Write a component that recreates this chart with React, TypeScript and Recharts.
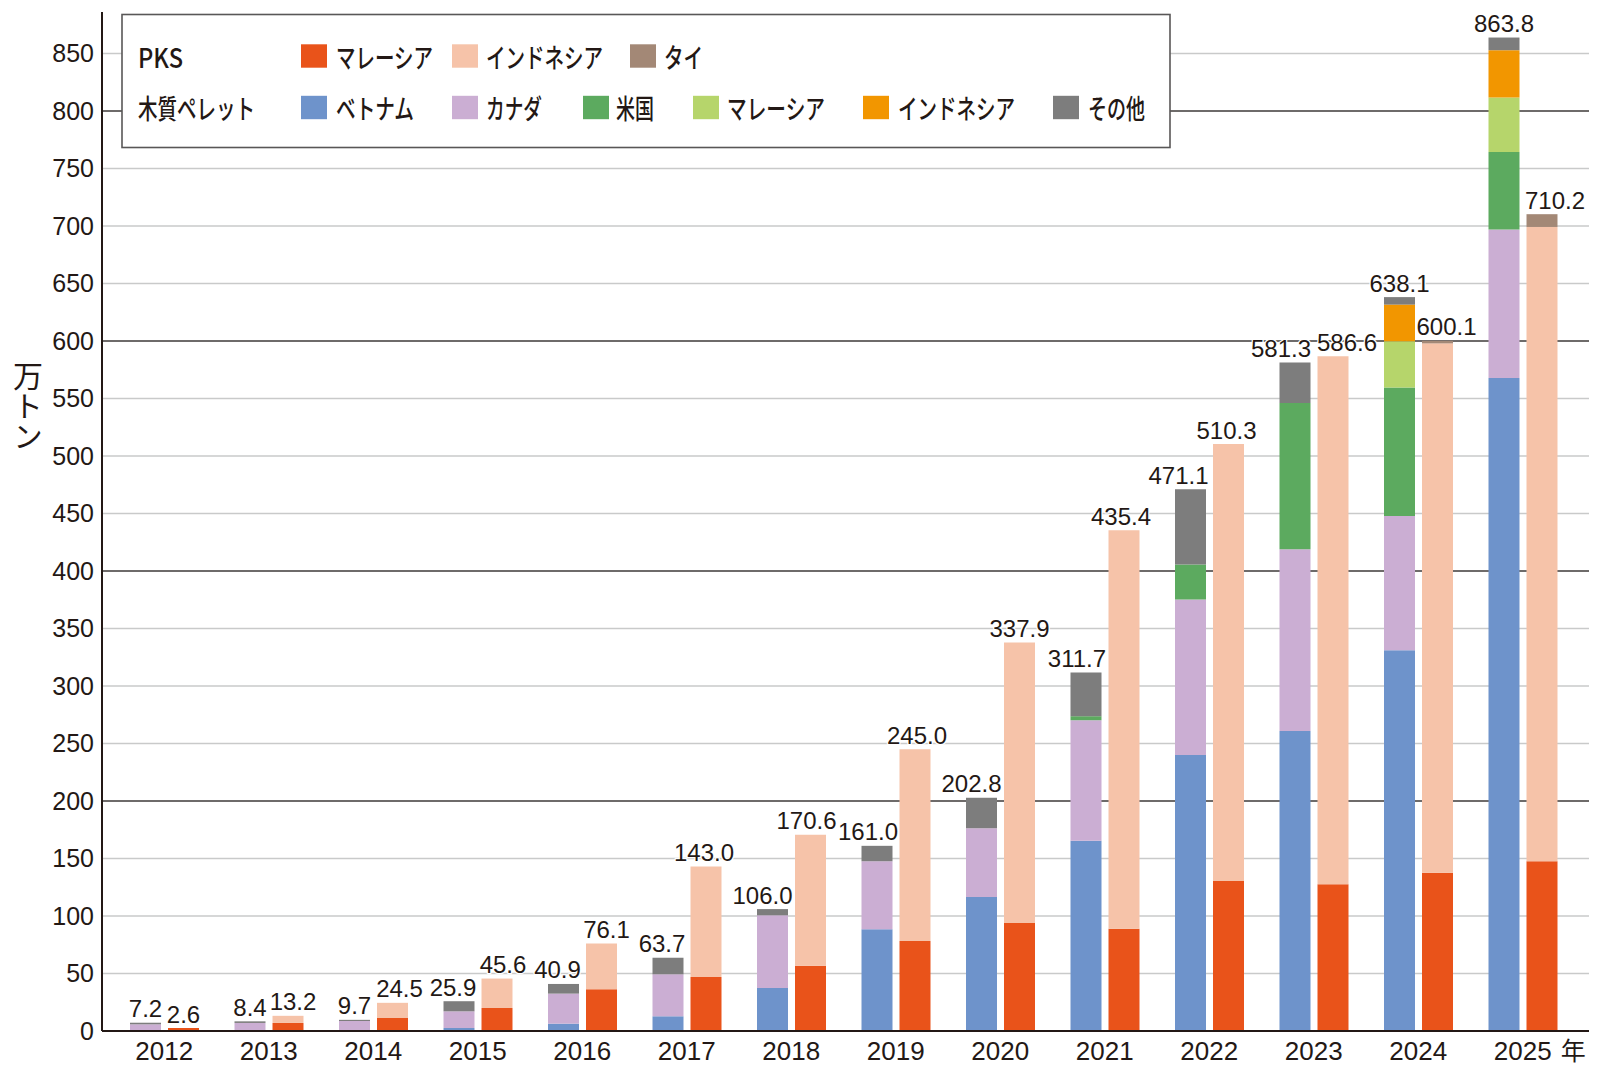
import React from 'react';
import { BarChart, Bar, XAxis, YAxis, CartesianGrid, LabelList } from 'recharts';

// ---- data (万トン) ----
const years = ['2012', '2013', '2014', '2015', '2016', '2017', '2018', '2019', '2020', '2021', '2022', '2023', '2024', '2025'];

// 木質ペレット
const woodVietnam = [0, 0, 0, 2.6, 6.4, 12.8, 37.4, 88.4, 116.5, 165.4, 240.0, 260.9, 331.0, 567.8];
const woodCanada = [5.8, 7.0, 8.7, 14.5, 26.1, 36.5, 63.2, 59.2, 59.8, 104.8, 135.1, 158.0, 116.8, 129.1];
const woodUS = [0, 0, 0, 0, 0, 0, 0, 0, 0, 3.5, 30.5, 127.2, 111.7, 67.4];
const woodMalaysia = [0, 0, 0, 0, 0, 0, 0, 0, 0, 0, 0, 0, 40.2, 47.3];
const woodIndonesia = [0, 0, 0, 0, 0, 0, 0, 0, 0, 0, 0, 0, 31.9, 41.2];
const woodOther = [1.4, 1.4, 1.0, 8.8, 8.4, 14.4, 5.4, 13.4, 26.5, 38.0, 65.5, 35.2, 6.5, 11.0];
const woodTotals = [7.2, 8.4, 9.7, 25.9, 40.9, 63.7, 106.0, 161.0, 202.8, 311.7, 471.1, 581.3, 638.1, 863.8];

// PKS
const pksMalaysia = [2.6, 7.0, 11.3, 20.0, 36.3, 47.0, 56.8, 78.3, 93.9, 88.9, 130.5, 127.6, 137.7, 147.6];
const pksIndonesia = [0, 6.2, 13.2, 25.6, 39.8, 96.0, 113.8, 166.7, 244.0, 346.5, 379.8, 459.0, 460.2, 551.5];
const pksThailand = [0, 0, 0, 0, 0, 0, 0, 0, 0, 0, 0, 0, 2.2, 11.1];
const pksTotals = [2.6, 13.2, 24.5, 45.6, 76.1, 143.0, 170.6, 245.0, 337.9, 435.4, 510.3, 586.6, 600.1, 710.2];

const yTicks = [0, 50, 100, 150, 200, 250, 300, 350, 400, 450, 500, 550, 600, 650, 700, 750, 800, 850];
const majorTicks = [200, 400, 600, 800];
const minorTicks = yTicks.filter((t) => t !== 0 && !majorTicks.includes(t));

// label nudges (px) to avoid overlaps, as in the original
const woodLabelNudge = [0, 0, 0, -6, -6, -6, -10, -9, -10, -9, -12, -14, 0, 0];
const pksLabelNudge = [0, 5, 7, 6, 5, -2, -4, 2, 0, -3, -2, 14, 9, 13];

const data = years.map((year, i) => ({
  year,
  wVn: woodVietnam[i],
  wCa: woodCanada[i],
  wUs: woodUS[i],
  wMy: woodMalaysia[i],
  wId: woodIndonesia[i],
  wOt: woodOther[i],
  pMy: pksMalaysia[i],
  pId: pksIndonesia[i],
  pTh: pksThailand[i],
  woodTotal: woodTotals[i],
  pksTotal: pksTotals[i],
}));

// ---- styles ----
const TEXT = '#231815';
const NUM_FONT = '"Liberation Sans", Arial, Helvetica, sans-serif';
const JP_FONT = '"Noto Sans CJK JP", "Noto Sans", sans-serif';

const C = {
  vn: '#6e93cb',
  ca: '#cbaed3',
  us: '#5caa5f',
  wmy: '#b6d56b',
  wid: '#f29600',
  ot: '#7d7d7d',
  pmy: '#e9531a',
  pid: '#f6c3a9',
  th: '#a38876',
};

const LabelText = ({ x, y, v }: { x: number; y: number; v: number }) => (
  <text
    x={x}
    y={y}
    textAnchor="middle"
    fontSize={24}
    fontFamily={NUM_FONT}
    fill={TEXT}
    stroke="#ffffff"
    strokeWidth={2.5}
    strokeLinejoin="round"
    paintOrder="stroke"
  >
    {v.toFixed(1)}
  </text>
);

// label on top segment of wood stack (always non-zero)
const woodLabel = (props: any) => {
  const vb = props.viewBox || {};
  const bx = Number(props.x ?? vb.x);
  const by = Number(props.y ?? vb.y);
  const bw = Number(props.width ?? vb.width);
  const v = Number(props.value);
  let i = woodTotals.indexOf(v);
  if (i < 0) i = 0;
  return <LabelText x={bx + bw / 2 + woodLabelNudge[i]} y={by - 5.5} v={v} />;
};

// label for PKS stack, placed at the stack total using the base segment's own scale
const pksLabel = (props: any) => {
  const vb = props.viewBox || {};
  const bx = Number(props.x ?? vb.x);
  const by = Number(props.y ?? vb.y);
  const bw = Number(props.width ?? vb.width);
  const bh = Number(props.height ?? vb.height);
  const v = Number(props.value);
  let i = pksTotals.indexOf(v);
  if (i < 0) i = 0;
  const bottom = by + bh;
  const top = bottom - (bh * v) / pksMalaysia[i];
  return <LabelText x={bx + bw / 2 + pksLabelNudge[i]} y={top - 5.5} v={v} />;
};

const YearTick = (props: any) => {
  const { x, y, payload } = props;
  const isLast = payload.value === years[years.length - 1];
  return (
    <g>
      <text x={x} y={y + 29} textAnchor="middle" fontSize={26} fontFamily={NUM_FONT} fill={TEXT}>
        {payload.value}
      </text>
      {isLast && (
        <text x={x + 38} y={y + 29} textAnchor="start" fontSize={25} fontFamily={JP_FONT} fill={TEXT}>
          年
        </text>
      )}
    </g>
  );
};

// legend layout
const legendRows = [
  {
    title: 'PKS',
    titleW: 45,
    y: 56,
    items: [
      { name: 'マレーシア', color: C.pmy, sx: 301, tx: 336, tw: 97 },
      { name: 'インドネシア', color: C.pid, sx: 452, tx: 486, tw: 117 },
      { name: 'タイ', color: C.th, sx: 630, tx: 664, tw: 39 },
    ],
  },
  {
    title: '木質ペレット',
    titleW: 117,
    y: 107.5,
    items: [
      { name: 'ベトナム', color: C.vn, sx: 301, tx: 336, tw: 78 },
      { name: 'カナダ', color: C.ca, sx: 452, tx: 486, tw: 56 },
      { name: '米国', color: C.us, sx: 583, tx: 616, tw: 38 },
      { name: 'マレーシア', color: C.wmy, sx: 693, tx: 727, tw: 98 },
      { name: 'インドネシア', color: C.wid, sx: 863, tx: 898, tw: 117 },
      { name: 'その他', color: C.ot, sx: 1053, tx: 1088, tw: 57 },
    ],
  },
];

const Overlay = () => (
  <svg
    width={1600}
    height={1070}
    style={{ position: 'absolute', left: 0, top: 0, pointerEvents: 'none' }}
  >
    <rect x={122} y={14.5} width={1048} height={133} fill="#ffffff" stroke="#595757" strokeWidth={1.6} />
    {legendRows.map((row) => (
      <g key={row.title}>
        <text
          x={138}
          y={row.y}
          dominantBaseline="central"
          fontSize={27}
          fontWeight={500}
          fontFamily={JP_FONT}
          fill={TEXT}
          textLength={row.titleW}
          lengthAdjust="spacingAndGlyphs"
        >
          {row.title}
        </text>
        {row.items.map((it) => (
          <g key={it.name + it.sx}>
            <rect x={it.sx} y={row.y - 11.7} width={26} height={23.4} fill={it.color} />
            <text
              x={it.tx}
              y={row.y}
              dominantBaseline="central"
              fontSize={27}
              fontWeight={500}
              fontFamily={JP_FONT}
              fill={TEXT}
              textLength={it.tw}
              lengthAdjust="spacingAndGlyphs"
            >
              {it.name}
            </text>
          </g>
        ))}
      </g>
    ))}
    {/* y-axis unit, vertical */}
    <text
      x={28}
      y={361}
      fontSize={30}
      fontFamily={JP_FONT}
      fill={TEXT}
      style={{ writingMode: 'vertical-rl' }}
    >
      万トン
    </text>
  </svg>
);

export default function App() {
  return (
    <div style={{ position: 'absolute', left: 0, top: 0, width: 1600, height: 1070, background: '#fff' }}>
      <BarChart
        width={1600}
        height={1070}
        data={data}
        margin={{ top: 12, right: 11, bottom: 0, left: 0 }}
        barSize={31}
        barGap={7}
      >
        <CartesianGrid vertical={false} horizontalValues={minorTicks} stroke="#c9caca" strokeWidth={1.5} />
        <CartesianGrid vertical={false} horizontalValues={majorTicks} stroke="#3e3a39" strokeWidth={1.5} />
        <XAxis
          dataKey="year"
          interval={0}
          height={39}
          padding={{ left: 10, right: 14 }}
          tickLine={false}
          tickSize={0}
          tickMargin={0}
          axisLine={{ stroke: TEXT, strokeWidth: 2 }}
          tick={<YearTick />}
        />
        <YAxis
          width={102}
          domain={[0, 886]}
          ticks={yTicks}
          interval={0}
          tickLine={false}
          axisLine={{ stroke: TEXT, strokeWidth: 2 }}
          tick={{ fontSize: 25, fontFamily: NUM_FONT, fill: TEXT }}
        />
        <Bar dataKey="wVn" stackId="wood" fill={C.vn} isAnimationActive={false} />
        <Bar dataKey="wCa" stackId="wood" fill={C.ca} isAnimationActive={false} />
        <Bar dataKey="wUs" stackId="wood" fill={C.us} isAnimationActive={false} />
        <Bar dataKey="wMy" stackId="wood" fill={C.wmy} isAnimationActive={false} />
        <Bar dataKey="wId" stackId="wood" fill={C.wid} isAnimationActive={false} />
        <Bar dataKey="wOt" stackId="wood" fill={C.ot} isAnimationActive={false}>
          <LabelList dataKey="woodTotal" content={woodLabel} />
        </Bar>
        <Bar dataKey="pMy" stackId="pks" fill={C.pmy} isAnimationActive={false}>
          <LabelList dataKey="pksTotal" content={pksLabel} />
        </Bar>
        <Bar dataKey="pId" stackId="pks" fill={C.pid} isAnimationActive={false} />
        <Bar dataKey="pTh" stackId="pks" fill={C.th} isAnimationActive={false} />
      </BarChart>
      <Overlay />
    </div>
  );
}
